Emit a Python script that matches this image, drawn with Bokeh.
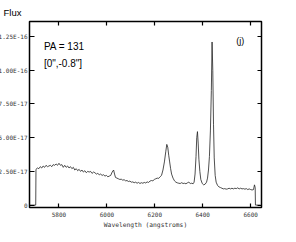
import numpy as np
from bokeh.plotting import figure
from bokeh.models import LinearAxis, FixedTicker, Label, Range1d, CustomLabelingPolicy
from bokeh.embed import file_html
from bokeh.resources import INLINE

# Wavelength (angstroms) and flux (in units of 1e-17)
wavelength = [5675, 5703, 5704, 5710, 5716, 5722, 5728, 5734, 5740, 5746, 5752, 5758, 5764, 5770,
              5776, 5782, 5788, 5794, 5800, 5806, 5812, 5818, 5824, 5830, 5836, 5842, 5848, 5854,
              5860, 5866, 5872, 5878, 5884, 5890, 5896, 5902, 5908, 5914, 5920, 5926, 5932, 5938,
              5944, 5950, 5956, 5962, 5968, 5974, 5980, 5986, 5992, 5998, 6004, 6010, 6016, 6022,
              6028, 6032, 6036, 6042, 6048, 6054, 6060, 6066, 6072, 6078, 6084, 6090, 6096, 6102,
              6108, 6114, 6120, 6126, 6132, 6138, 6144, 6150, 6156, 6162, 6168, 6174, 6180, 6186,
              6192, 6198, 6204, 6210, 6216, 6222, 6228, 6234, 6240, 6246, 6250, 6254, 6258, 6262,
              6266, 6270, 6276, 6282, 6288, 6294, 6300, 6306, 6312, 6318, 6324, 6330, 6336, 6342,
              6348, 6354, 6360, 6364, 6368, 6372, 6375, 6378, 6381, 6384, 6388, 6392, 6398, 6404,
              6410, 6416, 6420, 6424, 6428, 6432, 6436, 6439, 6442, 6445, 6448, 6452, 6456, 6462,
              6468, 6474, 6480, 6486, 6492, 6498, 6504, 6510, 6516, 6522, 6528, 6534, 6540, 6546,
              6552, 6558, 6564, 6570, 6576, 6582, 6588, 6594, 6600, 6606, 6612, 6616, 6619, 6620,
              6642]
flux_e17 = [0, 0, 2.65, 2.75, 2.7, 2.85, 2.75, 2.9, 2.8, 2.95, 2.85, 2.9, 2.95, 2.85,
            3.0, 2.95, 3.05, 2.95, 3.1, 2.95, 3.0, 2.8, 2.95, 2.8, 2.9, 2.75, 2.85, 2.7,
            2.8, 2.6, 2.7, 2.55, 2.65, 2.5, 2.6, 2.45, 2.55, 2.4, 2.5, 2.45, 2.5, 2.35,
            2.45, 2.4, 2.3, 2.35, 2.25, 2.3, 2.2, 2.25, 2.15, 2.2, 2.1, 2.15, 2.2, 2.45,
            2.6, 2.3, 2.05, 2.0, 1.95, 1.9, 1.92, 1.85, 1.88, 1.8, 1.82, 1.75, 1.78, 1.7,
            1.72, 1.66, 1.7, 1.62, 1.68, 1.6, 1.66, 1.62, 1.68, 1.64, 1.72, 1.68, 1.78, 1.82,
            1.8, 1.9, 1.95, 2.0, 1.98, 2.1, 2.2, 2.6, 3.2, 4.0, 4.5, 4.3, 3.7, 3.2,
            2.7, 2.3, 2.0, 1.8, 1.7, 1.65, 1.62, 1.6, 1.66, 1.6, 1.62, 1.58, 1.65, 1.7,
            1.6, 1.62, 1.58, 1.7, 2.3, 3.6, 5.0, 5.45, 4.6, 3.4, 2.5, 1.9, 1.6, 1.5,
            1.55, 1.7, 2.0, 2.6, 3.6, 5.5, 8.5, 12.1, 10.0, 6.0, 3.5, 2.2, 1.7, 1.45,
            1.35, 1.3, 1.25, 1.2, 1.22, 1.18, 1.2, 1.25, 1.2, 1.25, 1.2, 1.25, 1.22, 1.28,
            1.2, 1.25, 1.2, 1.22, 1.18, 1.22, 1.15, 1.2, 1.15, 1.12, 1.15, 1.5, 1.3, 0,
            0]

x_ticks = [5800, 6000, 6200, 6400, 6600]
y_ticks = [0, 2.5, 5.0, 7.5, 10.0, 12.5]
y_tick_labels = ["0", "2.50E-17", "5.00E-17", "7.50E-17", "1.00E-16", "1.25E-16"]

MONO = "DejaVu Sans Mono"
SANS = "Liberation Sans"

p = figure(frame_width=232, frame_height=186, output_backend="svg", toolbar_location=None,
           x_range=Range1d(5677.0, 6645.3), y_range=Range1d(-0.18, 13.62),
           min_border_left=0, min_border_right=4, min_border_top=13, min_border_bottom=0,
           background_fill_color="white", border_fill_color="white",
           title="Flux")
p.title.text_font = SANS
p.title.text_font_size = "9.5px"
p.title.text_font_style = "normal"
p.title.text_color = "black"
p.title.align = "left"
p.title.offset = -26
p.title.standoff = 0

p.grid.visible = False
p.outline_line_color = "black"
p.outline_line_width = 1.5

p.line(wavelength, flux_e17, line_color="#222222", line_width=0.8)

xa = p.xaxis[0]
ya = p.yaxis[0]
xa.ticker = FixedTicker(ticks=x_ticks)
ya.ticker = FixedTicker(ticks=y_ticks)
ya.major_label_overrides = {t: s for t, s in zip(y_ticks, y_tick_labels)}
xa.axis_label = "Wavelength (angstroms)"

for ax in (xa, ya):
    ax.axis_line_color = None
    ax.minor_tick_line_color = None
    ax.major_tick_line_color = "black"
    ax.major_tick_line_width = 1.2
    ax.major_label_text_font = MONO
    ax.major_label_text_font_size = "6px"
    ax.major_label_text_color = "#333333"
    ax.axis_label_text_font = MONO
    ax.axis_label_text_font_size = "6.3px"
    ax.axis_label_text_font_style = "normal"
    ax.axis_label_text_color = "#333333"

xa.major_tick_in = 4
xa.major_tick_out = 0
xa.major_label_standoff = 4
xa.axis_label_standoff = 1
ya.major_tick_in = 5
ya.major_tick_out = 0
ya.major_label_standoff = 2

no_labels = "for (const i of indices) { indices.unset(i) }\nreturn indices"
top = LinearAxis(ticker=FixedTicker(ticks=x_ticks), axis_line_color=None,
                 minor_tick_line_color=None, major_tick_in=4, major_tick_out=0,
                 major_tick_line_width=1.2, major_label_standoff=0,
                 major_label_text_font_size="1px",
                 major_label_policy=CustomLabelingPolicy(code=no_labels))
right = LinearAxis(ticker=FixedTicker(ticks=y_ticks), axis_line_color=None,
                   minor_tick_line_color=None, major_tick_in=4, major_tick_out=0,
                   major_tick_line_width=1.2, major_label_standoff=0,
                   major_label_text_font_size="1px",
                   major_label_policy=CustomLabelingPolicy(code=no_labels))
p.add_layout(top, "above")
p.add_layout(right, "right")

p.add_layout(Label(x=5737, y=11.75, text="PA = 131", text_font=SANS, text_font_size="10px",
                   text_color="black", text_baseline="alphabetic"))
p.add_layout(Label(x=5737, y=10.5, text='[0",-0.8"]', text_font=SANS, text_font_size="10px",
                   text_color="black", text_baseline="alphabetic"))
p.add_layout(Label(x=6540, y=12.18, text="(j)", text_font=SANS, text_font_size="9px",
                   text_color="black", text_baseline="alphabetic"))

p.styles = {"margin-left": "-5px", "margin-top": "4px"}

open("out.html", "w").write(file_html(p, INLINE))
